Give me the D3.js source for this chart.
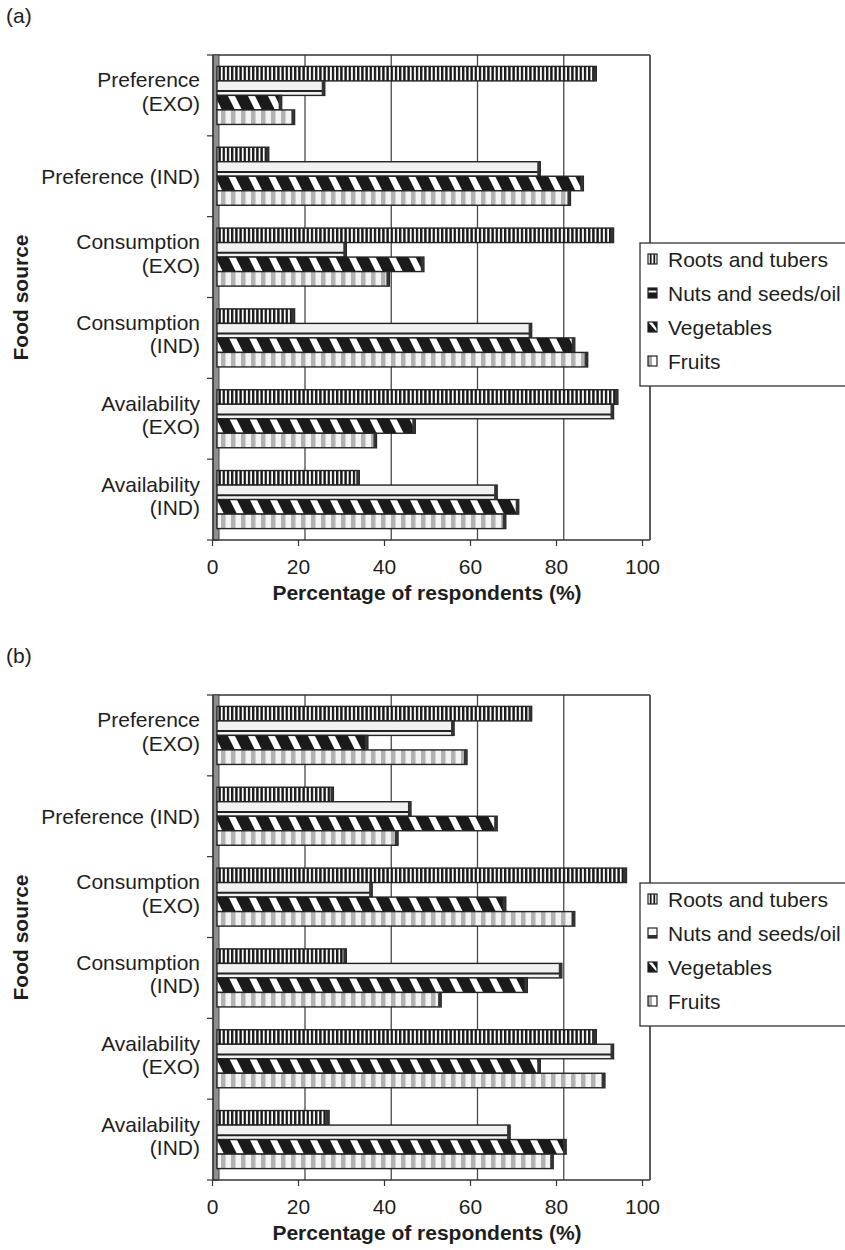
<!DOCTYPE html>
<html>
<head>
<meta charset="utf-8">
<script src="https://cdn.jsdelivr.net/npm/d3@7"></script>
<style>
  body { margin: 0; background: #fff; }
  text { font-family: 'Liberation Sans', Arial, sans-serif; fill: #1e1e1e; }
</style>
</head>
<body>
<script>
// category labels, top to bottom (line breaks as in the figure)
const categoryLines = [
  ['Preference', '(EXO)'],
  ['Preference (IND)'],
  ['Consumption', '(EXO)'],
  ['Consumption', '(IND)'],
  ['Availability', '(EXO)'],
  ['Availability', '(IND)']
];
const seriesNames = ['Roots and tubers', 'Nuts and seeds/oil', 'Vegetables', 'Fruits'];
const xTicks = [0, 20, 40, 60, 80, 100];

// panel (a) values, % of respondents, in category order
const rootsA  = [88, 12, 92, 18, 93, 33];
const nutsA   = [25, 75, 30, 73, 92, 65];
const vegA    = [15, 85, 48, 83, 46, 70];
const fruitsA = [18, 82, 40, 86, 37, 67];

// panel (b) values
const rootsB  = [73, 27, 95, 30, 88, 26];
const nutsB   = [55, 45, 36, 80, 92, 68];
const vegB    = [35, 65, 67, 72, 75, 81];
const fruitsB = [58, 42, 83, 52, 90, 78];

const width = 845, height = 1250;
const plotTop = 55, plotBottom = 540; // panel (a); (b) sits 640px lower
const panelShift = 640;

const svg = d3.select('body').append('svg')
  .attr('width', width)
  .attr('height', height);

const defs = svg.append('defs');

// vertical black/white stripes (roots)
const pRoots = defs.append('pattern').attr('id', 'p-roots')
  .attr('patternUnits', 'userSpaceOnUse').attr('width', 4.2).attr('height', 10);
pRoots.append('rect').attr('width', 4.2).attr('height', 10).attr('fill', '#fff');
pRoots.append('rect').attr('width', 2.4).attr('height', 10).attr('fill', '#1a1a1a');

// downward diagonal stripes (vegetables)
const pVeg = defs.append('pattern').attr('id', 'p-veg')
  .attr('patternUnits', 'userSpaceOnUse').attr('width', 20).attr('height', 40);
pVeg.append('rect').attr('width', 20).attr('height', 40).attr('fill', '#1a1a1a');
pVeg.append('polygon').attr('points', '0,0 7,0 27,40 20,40').attr('fill', '#fff');
pVeg.append('polygon').attr('points', '-20,0 -13,0 7,40 0,40').attr('fill', '#fff');

// light grey vertical stripes (fruits)
const pFruits = defs.append('pattern').attr('id', 'p-fruits')
  .attr('patternUnits', 'userSpaceOnUse').attr('width', 10).attr('height', 10);
pFruits.append('rect').attr('width', 10).attr('height', 10).attr('fill', '#f4f4f4');
pFruits.append('rect').attr('x', 1).attr('width', 4.5).attr('height', 10).attr('fill', '#b2b2b2');

// small legend swatches
const swRoots = defs.append('pattern').attr('id', 'sw-roots')
  .attr('patternContentUnits', 'objectBoundingBox').attr('width', 1).attr('height', 1);
swRoots.append('rect').attr('width', 1).attr('height', 1).attr('fill', '#fff');
swRoots.append('rect').attr('x', 0.2).attr('width', 0.2).attr('height', 1).attr('fill', '#1a1a1a');
swRoots.append('rect').attr('x', 0.6).attr('width', 0.2).attr('height', 1).attr('fill', '#1a1a1a');

const swVeg = defs.append('pattern').attr('id', 'sw-veg')
  .attr('patternContentUnits', 'objectBoundingBox').attr('width', 1).attr('height', 1);
swVeg.append('rect').attr('width', 1).attr('height', 1).attr('fill', '#1a1a1a');
swVeg.append('polygon').attr('points', '0,0 0.45,0 1,0.7 1,1').attr('fill', '#fff');

const swFruits = defs.append('pattern').attr('id', 'sw-fruits')
  .attr('patternContentUnits', 'objectBoundingBox').attr('width', 1).attr('height', 1);
swFruits.append('rect').attr('width', 1).attr('height', 1).attr('fill', '#fff');
swFruits.append('rect').attr('width', 0.45).attr('height', 1).attr('fill', '#a8a8a8');

const swNutsDark = defs.append('pattern').attr('id', 'sw-nuts-a')
  .attr('patternContentUnits', 'objectBoundingBox').attr('width', 1).attr('height', 1);
swNutsDark.append('rect').attr('width', 1).attr('height', 1).attr('fill', '#1a1a1a');
swNutsDark.append('rect').attr('y', 0.25).attr('width', 1).attr('height', 0.2).attr('fill', '#eee');

const swNutsLight = defs.append('pattern').attr('id', 'sw-nuts-b')
  .attr('patternContentUnits', 'objectBoundingBox').attr('width', 1).attr('height', 1);
swNutsLight.append('rect').attr('width', 1).attr('height', 1).attr('fill', '#fff');
swNutsLight.append('rect').attr('y', 0.7).attr('width', 1).attr('height', 0.3).attr('fill', '#333');

const barFills = ['url(#p-roots)', '#f1f1f1', 'url(#p-veg)', 'url(#p-fruits)'];

// scales: the figure is a pseudo-3D chart, so front axis, bars and back wall are offset a little
const xFront = d3.scaleLinear().domain([0, 100]).range([212, 642]);
const xBar = d3.scaleLinear().domain([0, 100]).range([217, 648]);
const xBack = d3.scaleLinear().domain([0, 100]).range([218.75, 650]);

const yScale = d3.scaleBand()
  .domain(d3.range(categoryLines.length))
  .range([plotTop, plotBottom])
  .paddingInner(0.282)
  .paddingOuter(0.141);

const ySeries = d3.scaleBand()
  .domain(d3.range(seriesNames.length))
  .range([0, yScale.bandwidth()]);

function drawPanel(panelLabel, seriesValues, nutsSwatch, dy) {
  const g = svg.append('g').attr('transform', 'translate(0,' + dy + ')');

  g.append('text') //panel letter
    .attr('x', 6).attr('y', 23)
    .style('font-size', '21px')
    .text(panelLabel);

  // back wall gridlines
  g.selectAll('.grid')
    .data(xTicks.slice(1))
    .enter()
    .append('line')
    .attr('x1', d => xBack(d)).attr('x2', d => xBack(d))
    .attr('y1', plotTop).attr('y2', plotBottom)
    .attr('stroke', '#4a4a4a').attr('stroke-width', 1.3);

  g.append('line') //top border
    .attr('x1', 213).attr('x2', xBack(100))
    .attr('y1', plotTop).attr('y2', plotTop)
    .attr('stroke', '#333').attr('stroke-width', 1.4);

  // grey side wall
  g.append('rect')
    .attr('x', 213).attr('y', plotTop)
    .attr('width', 6).attr('height', plotBottom - plotTop)
    .attr('fill', '#8f8f8f').attr('stroke', '#444').attr('stroke-width', 1);

  // bars
  seriesValues.forEach((vals, j) => {
    const bars = g.selectAll('.bar-' + j)
      .data(vals)
      .enter()
      .append('g');

    bars.append('rect')
      .attr('x', xBar(0))
      .attr('y', (d, i) => yScale(i) + ySeries(j))
      .attr('width', d => xBar(d) - xBar(0))
      .attr('height', ySeries.bandwidth())
      .attr('fill', barFills[j])
      .attr('stroke', '#222')
      .attr('stroke-width', 1.4);

    if (j === 1) { //dark line near the bottom of the nuts bars
      bars.append('line')
        .attr('x1', xBar(0)).attr('x2', d => xBar(d))
        .attr('y1', (d, i) => yScale(i) + ySeries(j) + ySeries.bandwidth() * 0.7)
        .attr('y2', (d, i) => yScale(i) + ySeries(j) + ySeries.bandwidth() * 0.7)
        .attr('stroke', '#222').attr('stroke-width', 2);
    }

    bars.append('rect') //dark end face
      .attr('x', d => xBar(d) - 3)
      .attr('y', (d, i) => yScale(i) + ySeries(j))
      .attr('width', 3)
      .attr('height', ySeries.bandwidth())
      .attr('fill', '#333');
  });

  // right wall border
  g.append('line')
    .attr('x1', xBack(100)).attr('x2', xBack(100))
    .attr('y1', plotTop).attr('y2', plotBottom)
    .attr('stroke', '#444').attr('stroke-width', 1.3);

  // x axis
  const xAxis = d3.axisBottom(xFront)
    .tickValues(xTicks)
    .tickSize(6)
    .tickPadding(13)
    .tickFormat(d3.format('d'));

  const ax = g.append('g')
    .attr('transform', 'translate(0,' + plotBottom + ')')
    .call(xAxis);
  ax.select('.domain').remove();
  ax.append('line')
    .attr('x1', 212).attr('x2', xBack(100))
    .attr('y1', 0).attr('y2', 0)
    .attr('stroke', '#333').attr('stroke-width', 1.4);
  ax.selectAll('.tick line').attr('stroke', '#333').attr('stroke-width', 1.2);
  ax.selectAll('.tick text')
    .style('font-size', '21px')
    .style('font-family', "'Liberation Sans', Arial, sans-serif")
    .attr('fill', '#1e1e1e');

  g.append('text') //x-axis title
    .attr('x', 427).attr('y', plotBottom + 60)
    .attr('text-anchor', 'middle')
    .style('font-size', '21px').style('font-weight', 'bold')
    .text('Percentage of respondents (%)');

  // y axis line and category ticks
  g.append('line')
    .attr('x1', 213).attr('x2', 213)
    .attr('y1', plotTop).attr('y2', plotBottom)
    .attr('stroke', '#333').attr('stroke-width', 1.4);

  const step = yScale.step();
  g.selectAll('.ytick')
    .data(d3.range(categoryLines.length + 1))
    .enter()
    .append('line')
    .attr('x1', 207).attr('x2', 213)
    .attr('y1', d => plotTop + d * step).attr('y2', d => plotTop + d * step)
    .attr('stroke', '#333').attr('stroke-width', 1.2);

  const labels = g.selectAll('.ylab')
    .data(categoryLines)
    .enter()
    .append('text')
    .attr('text-anchor', 'end')
    .style('font-size', '21px');
  labels.each(function (lines, i) {
    const c = yScale(i) + yScale.bandwidth() / 2;
    const first = lines.length === 1 ? c + 8 : c - 8;
    lines.forEach((ln, k) => {
      d3.select(this).append('tspan')
        .attr('x', 200)
        .attr('y', first + k * 23.5)
        .text(ln);
    });
  });

  g.append('text') //y-axis title
    .attr('transform', 'translate(28,' + ((plotTop + plotBottom) / 2) + ') rotate(-90)')
    .attr('text-anchor', 'middle')
    .style('font-size', '21px').style('font-weight', 'bold')
    .text('Food source');

  // legend
  g.append('rect')
    .attr('x', 640).attr('y', 243)
    .attr('width', 230).attr('height', 143)
    .attr('fill', '#fff').attr('stroke', '#333').attr('stroke-width', 1.3);

  const swatches = ['url(#sw-roots)', nutsSwatch, 'url(#sw-veg)', 'url(#sw-fruits)'];
  const items = g.selectAll('.leg')
    .data(seriesNames)
    .enter()
    .append('g')
    .attr('transform', (d, i) => 'translate(648,' + (267 + i * 34) + ')');
  items.append('rect')
    .attr('x', 0).attr('y', -13)
    .attr('width', 9).attr('height', 10)
    .attr('fill', (d, i) => swatches[i])
    .attr('stroke', '#222').attr('stroke-width', 1.2);
  items.append('text')
    .attr('x', 20).attr('y', 0)
    .style('font-size', '21px')
    .text(d => d);
}

drawPanel('(a)', [rootsA, nutsA, vegA, fruitsA], 'url(#sw-nuts-a)', 0);
drawPanel('(b)', [rootsB, nutsB, vegB, fruitsB], 'url(#sw-nuts-b)', panelShift);
</script>
</body>
</html>
